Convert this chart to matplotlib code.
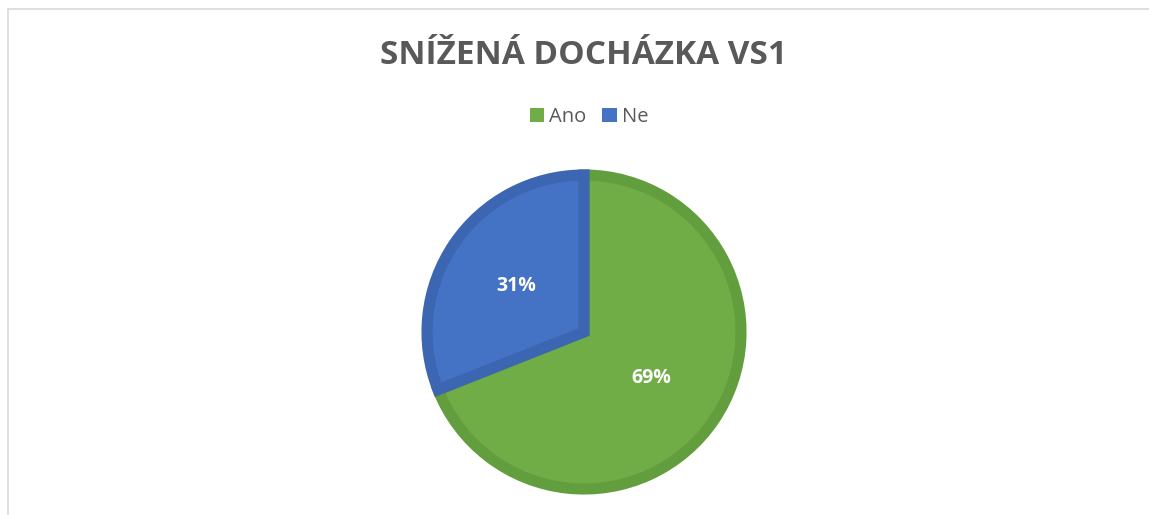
import matplotlib
matplotlib.use("Agg")
import matplotlib.pyplot as plt
from matplotlib.patches import Patch, Rectangle

W, H = 1149, 515

labels = ["Ano", "Ne"]
shares = [69, 31]
fill_colors = ["#70AD47", "#4472C4"]
edge_colors = ["#629E3D", "#3C66B2"]

TITLE = "SNÍŽENÁ DOCHÁZKA VS1"
GREY = "#595959"

plt.rcParams["font.family"] = ["Open Sans", "DejaVu Sans"]

fig = plt.figure(figsize=(W / 100, H / 100), dpi=100)
ax = fig.add_axes([0, 0, 1, 1])

# light chart-area frame (only left and top edges are inside the crop)
fig.patches.append(Rectangle((8 / W, -0.1), 1.2, (H - 9) / H + 0.1,
                             transform=fig.transFigure, fill=False,
                             edgecolor="#D9D9D9", linewidth=1.2))

wedges, texts = ax.pie(
    shares, colors=fill_colors, startangle=90, counterclock=False,
    center=(584, H - 332), radius=157, labels=[f"{s}%" for s in shares],
    labeldistance=0.52, frame=True,
    textprops=dict(color="white", fontsize=14, fontweight="bold"),
    wedgeprops=dict(linewidth=8, joinstyle="miter"),
)
for w, ec in zip(wedges, edge_colors):
    w.set_edgecolor(ec)
for t in texts:
    t.set_ha("center")
    t.set_va("center")
ax.set_xlim(0, W)
ax.set_ylim(0, H)
ax.set_aspect("equal")
ax.axis("off")

fig.text(583 / W, 1 - 55 / H, TITLE, ha="center", va="center",
         fontsize=24, fontweight="bold", color=GREY)

handles = [Patch(facecolor=c, edgecolor="none") for c in fill_colors]
fig.legend(handles, labels, loc="center", bbox_to_anchor=(589 / W, 1 - 117 / H),
           ncol=2, frameon=False, fontsize=14.5, labelcolor=GREY,
           handlelength=0.7, handleheight=0.7, handletextpad=0.25,
           columnspacing=0.8)

fig.savefig("out.png", dpi=100)
